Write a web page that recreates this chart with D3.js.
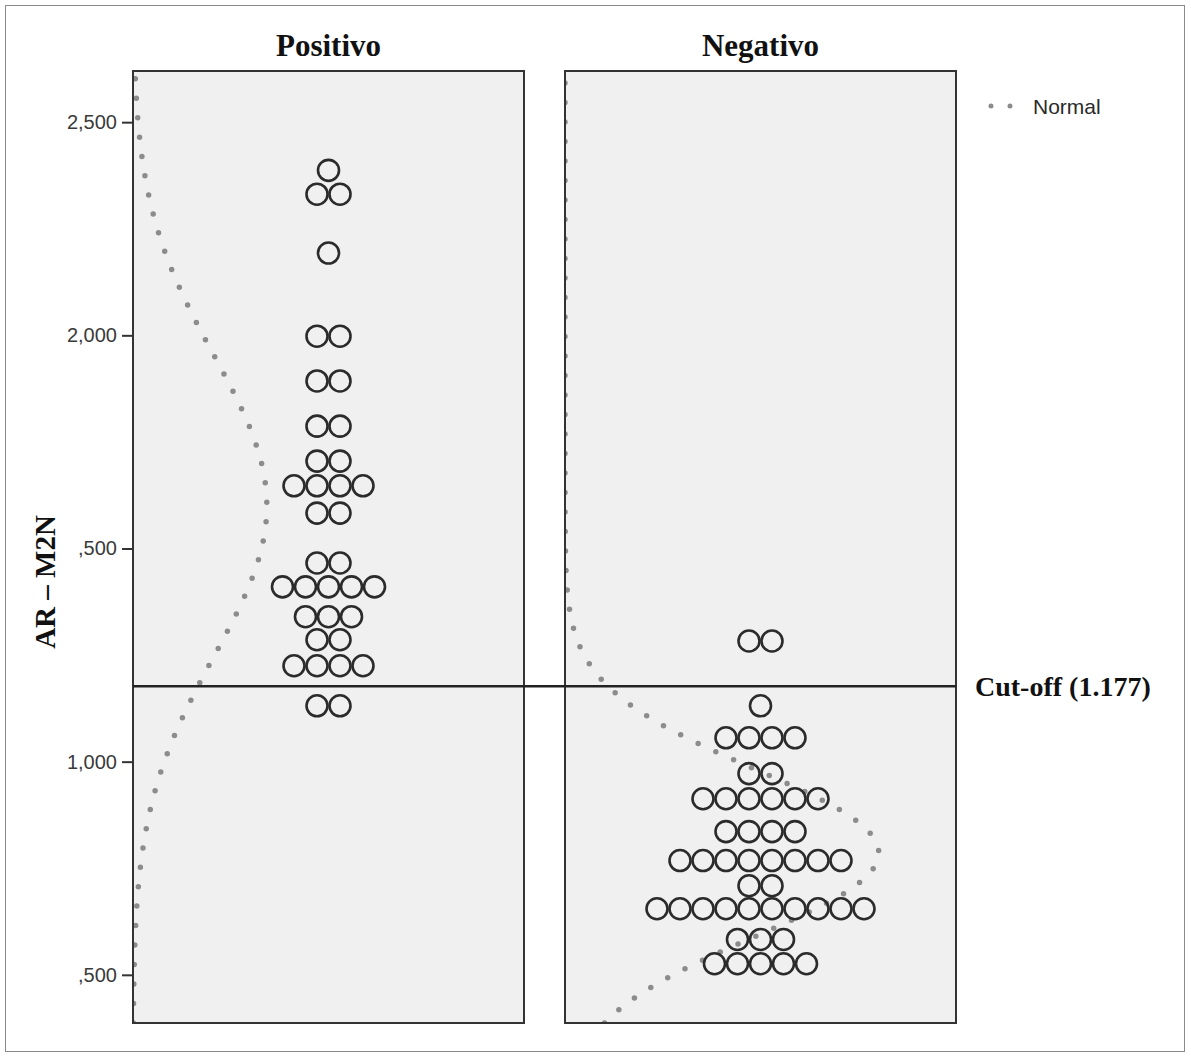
<!DOCTYPE html>
<html>
<head>
<meta charset="utf-8">
<script src="https://cdn.jsdelivr.net/npm/d3@7"></script>
<style>
  html, body { margin: 0; padding: 0; background: #fff; }
  svg { display: block; }
</style>
</head>
<body>
<div id="chart"></div>
<script>
// ---- data ----
const panels = ['Positivo', 'Negativo'];

// bin centres (AR - M2N) and how many dots sit in each bin
const positivoValues = [2.387, 2.331, 2.193, 1.998, 1.893, 1.787, 1.705, 1.647, 1.583, 1.466, 1.410, 1.340, 1.286, 1.225, 1.131];
const positivoCounts = [1, 2, 1, 2, 2, 2, 2, 4, 2, 2, 5, 3, 2, 4, 2];

const negativoValues = [1.283, 1.131, 1.056, 0.972, 0.913, 0.836, 0.768, 0.709, 0.655, 0.583, 0.526];
const negativoCounts = [2, 1, 4, 2, 6, 4, 8, 2, 10, 3, 5];

// fitted normal curves (mean, sd)
const normalMean = [1.60, 0.786];
const normalSd = [0.352, 0.196];

const tickValues = [0.5, 1.0, 1.5, 2.0, 2.5];
const tickLabels = [',500', '1,000', ',500', '2,000', '2,500'];

const cutOff = 1.177;
const cutOffLabel = 'Cut-off (1.177)';
const yTitle = 'AR \u2013 M2N';
const legendLabel = 'Normal';

// ---- layout ----
const W = 1191, H = 1057;
const panelTop = 71, panelBottom = 1023;
const panelX = [[133, 524], [565, 956]];
const dotR = 10.5, dotStep = 23;
const serif = '"Liberation Serif", "Times New Roman", serif';
const sans = '"Liberation Sans", Arial, sans-serif';

const svg = d3.select('#chart').append('svg')
    .attr('width', W).attr('height', H);

// outer frame
svg.append('rect')
    .attr('x', 5.5).attr('y', 5.5)
    .attr('width', W - 12).attr('height', H - 11)
    .attr('fill', '#fff').attr('stroke', '#8a8a8a').attr('stroke-width', 1);

const y = d3.scaleLinear().domain([0.387, 2.62]).range([panelBottom, panelTop]);
// horizontal size of the normal curve: dots-per-unit density -> pixels
const dens = d3.scaleLinear().domain([0, 100]).range([0, 328]);

const series = [
    { values: positivoValues, counts: positivoCounts },
    { values: negativoValues, counts: negativoCounts },
];

const defs = svg.append('defs');

panels.forEach((name, i) => {
    const [x0, x1] = panelX[i];
    const cx = (x0 + x1) / 2;

    defs.append('clipPath').attr('id', 'clip' + i)
        .append('rect').attr('x', x0).attr('y', panelTop)
        .attr('width', x1 - x0).attr('height', panelBottom - panelTop);

    svg.append('rect')
        .attr('x', x0).attr('y', panelTop)
        .attr('width', x1 - x0).attr('height', panelBottom - panelTop)
        .attr('fill', '#f0f0f0');

    // panel title
    svg.append('text')
        .attr('x', cx).attr('y', 56)
        .attr('text-anchor', 'middle')
        .attr('font-family', serif)
        .attr('font-weight', 'bold').attr('font-size', 31)
        .attr('fill', '#111')
        .text(name);

    // normal curve
    const n = d3.sum(series[i].counts);
    const m = normalMean[i], sd = normalSd[i];
    const pdf = v => Math.exp(-0.5 * ((v - m) / sd) ** 2) / (sd * Math.sqrt(2 * Math.PI));
    const pts = d3.range(0, 401).map(k => {
        const v = y.domain()[0] + (y.domain()[1] - y.domain()[0]) * k / 400;
        return [x0 + dens(n * pdf(v)), y(v)];
    });
    svg.append('path')
        .attr('clip-path', `url(#clip${i})`)
        .attr('d', d3.line()(pts))
        .attr('fill', 'none')
        .attr('stroke', '#8c8c8c')
        .attr('stroke-width', 5.5)
        .attr('stroke-linecap', 'round')
        .attr('stroke-dasharray', '0 19.5');

    // dots
    const dots = [];
    series[i].values.forEach((v, r) => {
        const c = series[i].counts[r];
        for (let k = 0; k < c; k++) {
            dots.push({ v, off: (k - (c - 1) / 2) * dotStep });
        }
    });
    svg.append('g').selectAll('circle')
        .data(dots).enter()
        .append('circle')
        .attr('cx', d => cx + d.off)
        .attr('cy', d => y(d.v))
        .attr('r', dotR)
        .attr('fill', 'none')
        .attr('stroke', '#2b2b2b')
        .attr('stroke-width', 2.6);

    // panel border
    svg.append('rect')
        .attr('x', x0).attr('y', panelTop)
        .attr('width', x1 - x0).attr('height', panelBottom - panelTop)
        .attr('fill', 'none').attr('stroke', '#333').attr('stroke-width', 2);
});

// cut-off line across both panels
svg.append('line')
    .attr('x1', panelX[0][0]).attr('x2', panelX[1][1])
    .attr('y1', y(cutOff)).attr('y2', y(cutOff))
    .attr('stroke', '#222').attr('stroke-width', 2.6);

svg.append('text')
    .attr('x', 975).attr('y', y(cutOff) + 10)
    .attr('font-family', serif)
    .attr('font-weight', 'bold').attr('font-size', 28)
    .attr('fill', '#111')
    .text(cutOffLabel);

// y axis
const axis = svg.append('g')
    .attr('transform', `translate(${panelX[0][0]},0)`)
    .call(d3.axisLeft(y).tickValues(tickValues)
        .tickFormat((d, k) => tickLabels[k])
        .tickSize(11).tickPadding(5));
axis.select('.domain').remove();
axis.selectAll('.tick line').attr('stroke', '#333').attr('stroke-width', 2);
axis.selectAll('.tick text')
    .attr('font-family', sans)
    .attr('font-size', 20).attr('fill', '#3a3a3a');

svg.append('text')
    .attr('transform', 'translate(55,582) rotate(-90)')
    .attr('text-anchor', 'middle')
    .attr('font-family', serif)
    .attr('font-weight', 'bold').attr('font-size', 29)
    .attr('fill', '#111')
    .text(yTitle);

// legend
svg.append('line')
    .attr('x1', 991).attr('x2', 1029)
    .attr('y1', 106).attr('y2', 106)
    .attr('stroke', '#8c8c8c').attr('stroke-width', 5)
    .attr('stroke-linecap', 'round').attr('stroke-dasharray', '0 19');
svg.append('text')
    .attr('x', 1033).attr('y', 114)
    .attr('font-family', sans)
    .attr('font-size', 21).attr('fill', '#2a2a2a')
    .text(legendLabel);
</script>
</body>
</html>
